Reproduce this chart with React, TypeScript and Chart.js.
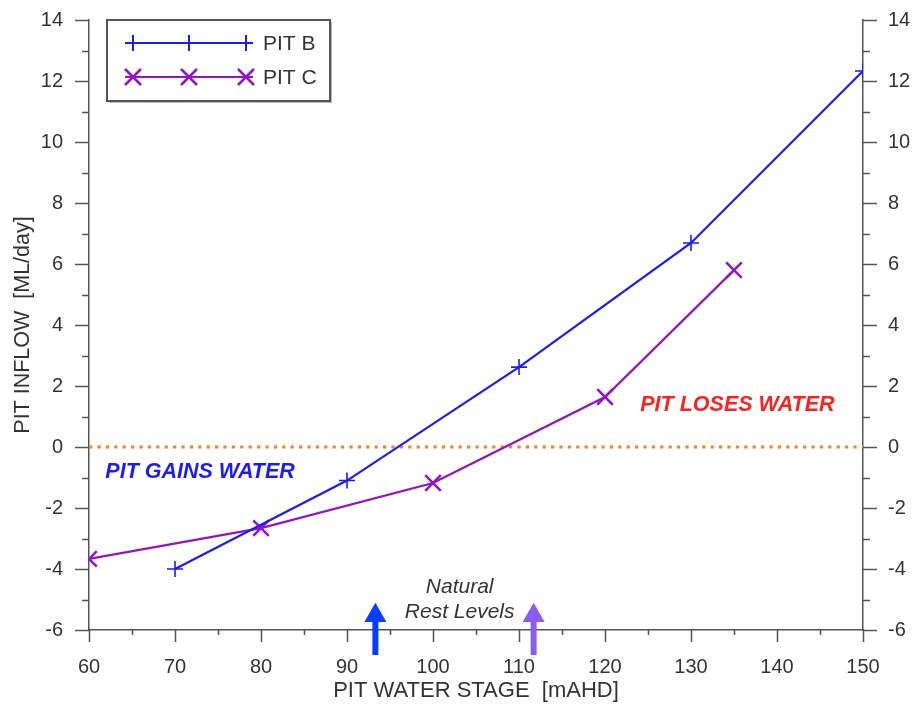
import React, { useEffect, useRef } from 'react';
import { Chart, registerables } from 'chart.js';

Chart.register(...registerables);

// ---- data ----
const seriesLabels = ['PIT B', 'PIT C'];
const pitBStage = [70, 90, 110, 130, 150];
const pitBInflow = [-4.0, -1.1, 2.62, 6.69, 12.33];
const pitCStage = [60, 80, 100, 120, 135];
const pitCInflow = [-3.67, -2.66, -1.18, 1.64, 5.8];
const zeroStage = [60, 150];
const zeroInflow = [0, 0];
const restLevelStage = [93.3, 111.7];
const xRange = [60, 150];
const yRange = [-6, 14];

// ---- styles ----
const FONT = '"Liberation Sans", Arial, Helvetica, sans-serif';
const TEXT = '#333333';
const AXIS = '#555555';
const COLOR_B = '#1a1aff';
const COLOR_C = '#9412c8';
const COLOR_ZERO = '#ff7f1e';
const REST_COLORS = ['#0a3cff', '#8a5cf5'];

// annotation anchors in data units
const gainsAnchor = { x: 61.9, y: -0.82 };
const losesAnchor = { x: 124.1, y: 1.38 };
const naturalAnchor = { x: 103.1, y: -4.59 };
const restAnchor = { x: 103.1, y: -5.41 };
const arrowTipY = -5.11;
const arrowBaseY = -5.74;
const arrowEndY = -6.82;

function toXY(xs: number[], ys: number[]) {
  return xs.map((x, i) => ({ x, y: ys[i] }));
}

const decorPlugin = {
  id: 'decor',
  afterDraw(chart: any) {
    const ctx: CanvasRenderingContext2D = chart.ctx;
    const xs = chart.scales.x;
    const ys = chart.scales.y;
    const a = chart.chartArea;
    ctx.save();

    // tick marks (major + minor), outward
    ctx.strokeStyle = AXIS;
    ctx.lineWidth = 1.5;
    ctx.beginPath();
    for (let v = yRange[0]; v <= yRange[1]; v += 1) {
      const py = Math.round(ys.getPixelForValue(v)) + 0.5;
      const len = v % 2 === 0 ? 14 : 7;
      ctx.moveTo(a.left - len, py);
      ctx.lineTo(a.left, py);
      ctx.moveTo(a.right, py);
      ctx.lineTo(a.right + len, py);
    }
    for (let v = xRange[0]; v <= xRange[1]; v += 5) {
      const px = Math.round(xs.getPixelForValue(v)) + 0.5;
      const len = v % 10 === 0 ? 12 : 5;
      ctx.moveTo(px, a.bottom);
      ctx.lineTo(px, a.bottom + len);
    }
    ctx.stroke();

    // rest level arrows
    restLevelStage.forEach((s, i) => {
      const px = xs.getPixelForValue(s);
      const tip = ys.getPixelForValue(arrowTipY);
      const base = ys.getPixelForValue(arrowBaseY);
      const end = ys.getPixelForValue(arrowEndY);
      ctx.fillStyle = REST_COLORS[i];
      ctx.fillRect(px - 3, base - 1, 6, end - base + 1);
      ctx.beginPath();
      ctx.moveTo(px, tip);
      ctx.lineTo(px + 11, base);
      ctx.lineTo(px - 11, base);
      ctx.closePath();
      ctx.fill();
    });

    // texts
    ctx.textBaseline = 'middle';
    ctx.font = `italic bold 21.5px ${FONT}`;
    ctx.textAlign = 'left';
    ctx.fillStyle = '#1a1aff';
    ctx.fillText('PIT GAINS WATER', xs.getPixelForValue(gainsAnchor.x), ys.getPixelForValue(gainsAnchor.y));
    ctx.fillStyle = '#ff2020';
    ctx.fillText('PIT LOSES WATER', xs.getPixelForValue(losesAnchor.x), ys.getPixelForValue(losesAnchor.y));
    ctx.font = `italic 21px ${FONT}`;
    ctx.textAlign = 'center';
    ctx.fillStyle = TEXT;
    ctx.fillText('Natural', xs.getPixelForValue(naturalAnchor.x), ys.getPixelForValue(naturalAnchor.y));
    ctx.fillText('Rest Levels', xs.getPixelForValue(restAnchor.x), ys.getPixelForValue(restAnchor.y));

    // legend box
    const bx = 107, by = 20, bw = 223, bh = 81;
    ctx.fillStyle = '#bbbbbb';
    ctx.fillRect(bx + 2, by + 2, bw, bh);
    ctx.fillStyle = '#ffffff';
    ctx.fillRect(bx, by, bw, bh);
    ctx.strokeStyle = '#555555';
    ctx.lineWidth = 2;
    ctx.strokeRect(bx, by, bw, bh);

    const rows = [
      { label: seriesLabels[0], color: COLOR_B, y: 43, mark: 'plus' },
      { label: seriesLabels[1], color: COLOR_C, y: 77, mark: 'x' },
    ];
    const markX = [133, 189, 246];
    rows.forEach((r) => {
      ctx.strokeStyle = r.color;
      ctx.lineWidth = 2;
      ctx.beginPath();
      ctx.moveTo(125, r.y);
      ctx.lineTo(253, r.y);
      ctx.stroke();
      ctx.beginPath();
      markX.forEach((mx) => {
        if (r.mark === 'plus') {
          ctx.moveTo(mx, r.y - 8);
          ctx.lineTo(mx, r.y + 8);
        } else {
          ctx.moveTo(mx - 8, r.y - 8);
          ctx.lineTo(mx + 8, r.y + 8);
          ctx.moveTo(mx + 8, r.y - 8);
          ctx.lineTo(mx - 8, r.y + 8);
        }
      });
      ctx.lineWidth = r.mark === 'plus' ? 2 : 2.5;
      ctx.stroke();
      ctx.fillStyle = TEXT;
      ctx.font = `21px ${FONT}`;
      ctx.textAlign = 'left';
      ctx.textBaseline = 'middle';
      ctx.fillText(r.label, 263, r.y + 1);
    });

    ctx.restore();
  },
};

export default function App() {
  const ref = useRef<HTMLCanvasElement | null>(null);

  useEffect(() => {
    if (!ref.current) return;
    const tickFont = { family: FONT, size: 20 };
    const chart = new Chart(ref.current, {
      type: 'line',
      data: {
        datasets: [
          {
            label: seriesLabels[0],
            data: toXY(pitBStage, pitBInflow),
            borderColor: COLOR_B,
            backgroundColor: COLOR_B,
            borderWidth: 2.2,
            pointStyle: 'cross',
            pointRadius: 8,
            pointBorderWidth: 1.6,
            pointBorderColor: COLOR_B,
            tension: 0,
            order: 0,
          },
          {
            label: seriesLabels[1],
            data: toXY(pitCStage, pitCInflow),
            borderColor: COLOR_C,
            backgroundColor: COLOR_C,
            borderWidth: 2.2,
            pointStyle: 'crossRot',
            pointRadius: 11,
            pointBorderWidth: 2.5,
            pointBorderColor: COLOR_C,
            tension: 0,
            order: 1,
          },
          {
            label: 'zero',
            data: toXY(zeroStage, zeroInflow),
            borderColor: COLOR_ZERO,
            borderWidth: 3.2,
            borderDash: [3.2, 5.2],
            pointRadius: 0,
            order: 2,
          },
        ],
      },
      options: {
        animation: false,
        responsive: false,
        devicePixelRatio: 1,
        layout: { padding: { top: 20, left: 0, right: 0, bottom: 0 } },
        plugins: { legend: { display: false }, tooltip: { enabled: false } },
        scales: {
          x: {
            type: 'linear',
            position: 'bottom',
            min: xRange[0],
            max: xRange[1],
            grid: { display: false, drawTicks: false },
            border: { display: true, color: AXIS, width: 1.5 },
            ticks: { stepSize: 10, color: TEXT, font: tickFont, padding: 25, maxRotation: 0, autoSkip: false },
            title: {
              display: true,
              text: 'PIT WATER STAGE  [mAHD]',
              color: TEXT,
              font: { family: FONT, size: 22 },
              padding: { top: 0, bottom: 0 },
            },
            afterFit: (s: any) => { s.height = 74; },
          },
          y: {
            type: 'linear',
            position: 'left',
            min: yRange[0],
            max: yRange[1],
            grid: { display: false, drawTicks: false },
            border: { display: true, color: AXIS, width: 1.5 },
            ticks: { stepSize: 2, color: TEXT, font: tickFont, padding: 26 },
            title: {
              display: true,
              text: 'PIT INFLOW  [ML/day]',
              color: TEXT,
              font: { family: FONT, size: 21.5 },
              padding: { top: 10, bottom: 0 },
            },
            afterFit: (s: any) => { s.width = 89; s.paddingTop = 0; s.paddingBottom = 0; },
          },
          y2: {
            type: 'linear',
            position: 'right',
            display: true,
            min: yRange[0],
            max: yRange[1],
            grid: { display: false, drawTicks: false },
            border: { display: true, color: AXIS, width: 1.5 },
            ticks: { stepSize: 2, color: TEXT, font: tickFont, padding: 25 },
            afterFit: (s: any) => { s.width = 50; s.paddingTop = 0; s.paddingBottom = 0; },
          },
        },
      },
      plugins: [decorPlugin],
    } as any);
    return () => chart.destroy();
  }, []);

  return (
    <div style={{ position: 'fixed', left: 0, top: 0, width: 913, height: 704, background: '#fff' }}>
      <canvas ref={ref} width={913} height={704} style={{ display: 'block' }} />
    </div>
  );
}
